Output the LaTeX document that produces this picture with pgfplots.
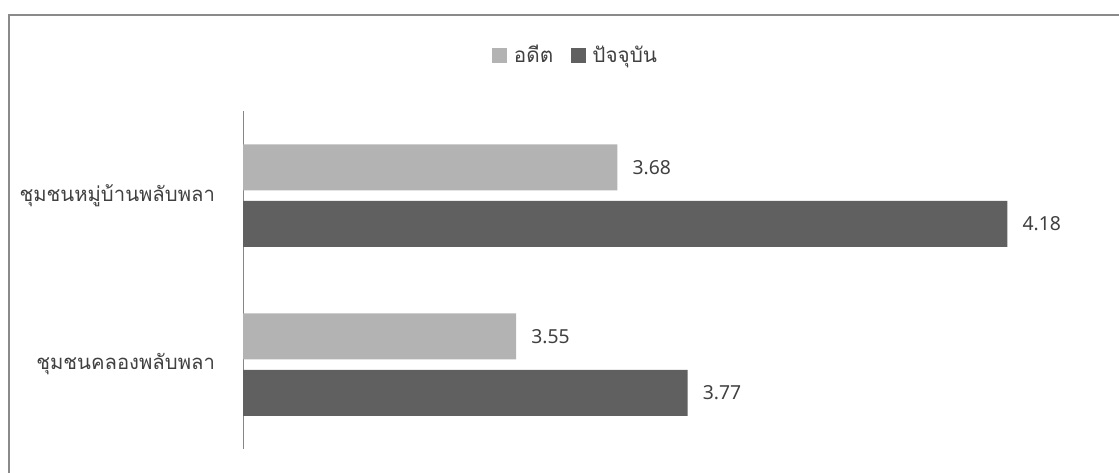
\documentclass[border=0pt]{standalone}
\usepackage{pgfplots}
\pgfplotsset{compat=1.18}
\usepackage{fontspec}
\setmainfont{Noto Sans}
\newfontfamily\thaifont[Script=Thai]{Loma}
\definecolor{lightbar}{RGB}{179,179,179}
\definecolor{darkbar}{RGB}{96,96,96}
\definecolor{framegray}{RGB}{138,138,138}
\definecolor{axisgray}{RGB}{134,134,134}
\definecolor{txt}{RGB}{64,64,64}
\begin{document}
\begin{tikzpicture}
\useasboundingbox (0,0) rectangle (839.25pt,354.75pt);
\draw[line width=1.5pt, framegray] (6.75pt,-10pt) -- (6.75pt,343.5pt) -- (860pt,343.5pt);
\begin{axis}[
  at={(182.25pt,18pt)}, anchor=south west,
  scale only axis, width=643.5pt, height=253.5pt,
  xbar, bar width=34.5pt,
  xmin=3.2, xmax=4.3, ymin=0.5, ymax=2.5,
  axis x line=none, axis y line=left,
  y axis line style={-, draw=axisgray, line width=0.75pt},
  ytick={1,2},
  yticklabels={ชุมชนคลองพลับพลา, ชุมชนหมู่บ้านพลับพลา},
  ytick style={draw=none},
  yticklabel style={font=\thaifont\fontsize{15.2}{18}\selectfont, text=txt, inner sep=0pt, anchor=east},
  yticklabel shift=18.75pt,
  point meta=x,
  nodes near coords={\pgfmathprintnumber[fixed,precision=2,fixed zerofill]{\pgfplotspointmeta}},
  nodes near coords style={font=\fontsize{14.5}{17}\selectfont, text=txt, anchor=west, xshift=11.25pt, inner sep=0pt},
  /pgf/number format/assume math mode=true,
  legend style={at={(0.388,1.166)}, anchor=center, draw=none, fill=none,
    legend columns=2, font=\thaifont\fontsize{15.5}{18}\selectfont, text=txt,
    /tikz/every even column/.append style={column sep=11pt}},
]
\addplot[fill=lightbar, draw=none, bar shift=21pt, forget plot] coordinates {(3.68,2) (3.55,1)};
\addplot[fill=darkbar, draw=none, bar shift=-21.375pt, forget plot] coordinates {(4.18,2) (3.77,1)};
\addlegendimage{legend image code/.code={\fill[lightbar] (0pt,-5.25pt) rectangle (10.5pt,5.25pt); \path (14pt,0pt);}}
\addlegendentry{อดีต}
\addlegendimage{legend image code/.code={\fill[darkbar] (0pt,-5.25pt) rectangle (10.5pt,5.25pt); \path (14pt,0pt);}}
\addlegendentry{ปัจจุบัน}
\end{axis}
\end{tikzpicture}
\end{document}
